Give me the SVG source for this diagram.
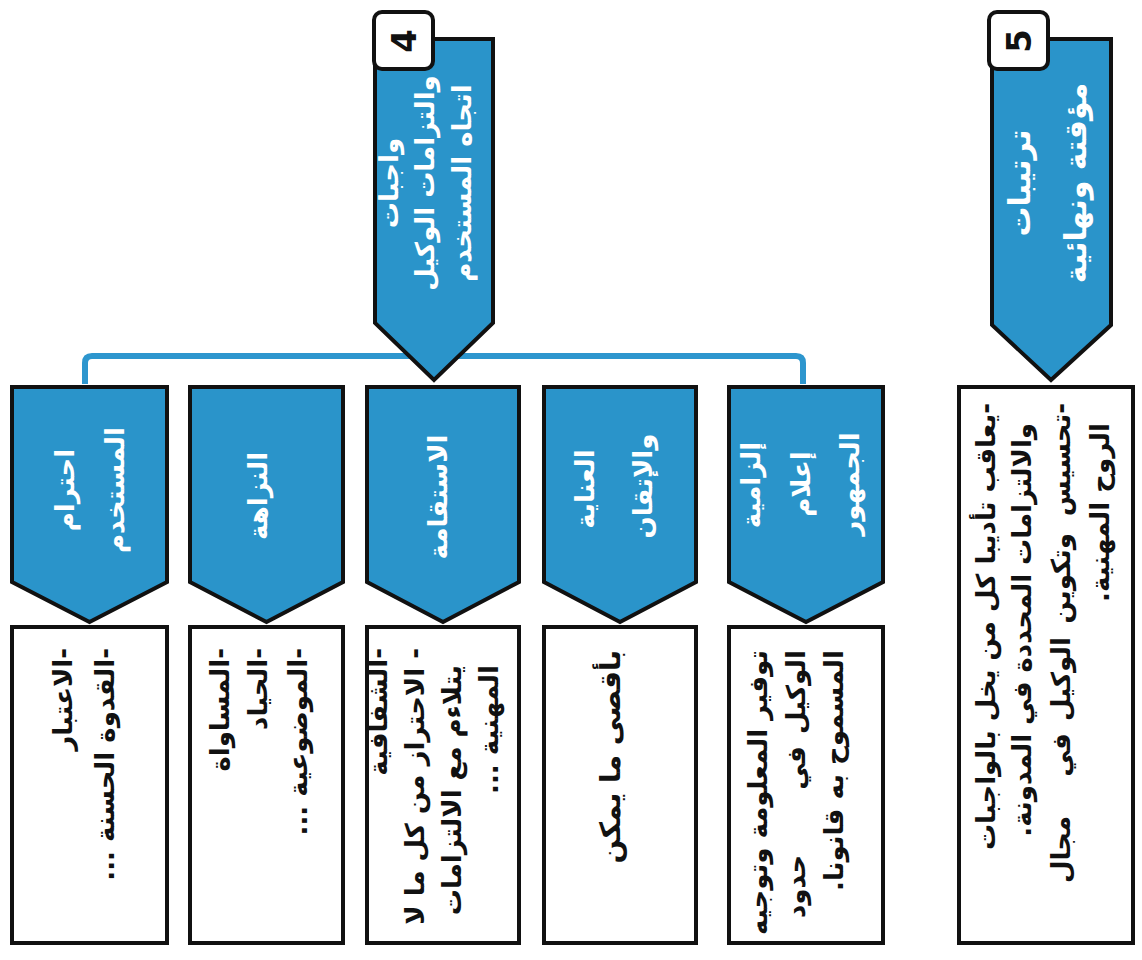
<svg xmlns="http://www.w3.org/2000/svg" width="1142" height="960" viewBox="0 0 1142 960">
<style>
.blue{fill:#2A94CA;stroke:#111;stroke-width:4;stroke-linejoin:miter}
.box{fill:#fff;stroke:#111;stroke-width:4}
.num{fill:#fff;stroke:#111;stroke-width:4}
.conn{fill:none;stroke:#2D96CE;stroke-width:6}
text{font-family:"DejaVu Sans",sans-serif;font-weight:bold}
.wt{fill:#fff;font-size:26px}
.bt{fill:#111;font-size:26px}
.dg{fill:#111;font-size:34px}
</style>
<rect width="1142" height="960" fill="#fff"/>
<g id="connectors">
<path class="conn" d="M85 384 V363 Q85 356 92 356 H796 Q803 356 803 363 V384"/>
</g>
<g id="node4">
<path class="blue" d="M375 39 H493 V323 L434 380 L375 323 Z"/>
<rect class="num" x="374" y="12" width="59" height="57" rx="8"/>
<text class="dg" transform="rotate(-90)" text-anchor="middle"><tspan x="-41" y="416">4</tspan></text>
<text class="wt" transform="rotate(-90)" text-anchor="middle" direction="rtl"><tspan x="-183" y="398">واجبات</tspan><tspan x="-183" y="434">والتزامات  الوكيل</tspan><tspan x="-183" y="471">اتجاه المستخدم</tspan></text>
</g>
<g id="node5">
<path class="blue" d="M992 39 H1111 V325 L1051 380 L992 325 Z"/>
<rect class="num" x="989" y="12" width="59" height="57" rx="8"/>
<text class="dg" transform="rotate(-90)" text-anchor="middle"><tspan x="-41" y="1031">5</tspan></text>
<text class="wt" style="font-size:30px" transform="rotate(-90)" text-anchor="middle" direction="rtl"><tspan x="-183" y="1030">ترتيبات</tspan><tspan x="-183" y="1086">مؤقتة ونهائية</tspan></text>
</g>
<g id="box5">
<rect class="box" x="959" y="387" width="174" height="556"/>
<text class="bt" transform="rotate(-90)" text-anchor="start" direction="rtl"><tspan x="-403" y="995">-يعاقب تأديبا كل من يخل بالواجبات</tspan><tspan x="-423" y="1031">والالتزامات المحددة في المدونة.</tspan></text>
<text class="bt" transform="rotate(-90)" text-anchor="start" direction="rtl" x="-403" y="1070">-تحسيس</text>
<text class="bt" transform="rotate(-90)" text-anchor="start" direction="rtl" x="-533" y="1070">وتكوين</text>
<text class="bt" transform="rotate(-90)" text-anchor="start" direction="rtl" x="-637" y="1070">الوكيل</text>
<text class="bt" transform="rotate(-90)" text-anchor="middle" direction="rtl" x="-755" y="1070">في</text>
<text class="bt" transform="rotate(-90)" text-anchor="end" direction="rtl" x="-883" y="1070">مجال</text>
<text class="bt" transform="rotate(-90)" text-anchor="start" direction="rtl"><tspan x="-423" y="1109">الروح المهنية.</tspan></text>
</g>
<g id="c1">
<path class="blue" d="M12 387 H167 V582 L89.5 622 L12 582 Z"/>
<text class="wt" transform="rotate(-90)" text-anchor="middle" direction="rtl"><tspan x="-490" y="74">احترام</tspan><tspan x="-490" y="124">المستخدم</tspan></text>
</g>
<g id="c2">
<path class="blue" d="M190 387 H343 V582 L266.5 622 L190 582 Z"/>
<text class="wt" transform="rotate(-90)" text-anchor="middle" direction="rtl"><tspan x="-496" y="267">النزاهة</tspan></text>
</g>
<g id="c3">
<path class="blue" d="M367 387 H519 V582 L443 622 L367 582 Z"/>
<text class="wt" transform="rotate(-90)" text-anchor="middle" direction="rtl"><tspan x="-497" y="447">الاستقامة</tspan></text>
</g>
<g id="c4">
<path class="blue" d="M544 387 H696 V582 L620 622 L544 582 Z"/>
<text class="wt" transform="rotate(-90)" text-anchor="middle" direction="rtl"><tspan x="-489" y="594">العناية</tspan><tspan x="-486" y="652">والإتقان</tspan></text>
</g>
<g id="c5">
<path class="blue" d="M729 387 H883 V582 L806 622 L729 582 Z"/>
<text class="wt" transform="rotate(-90)" text-anchor="middle" direction="rtl"><tspan x="-485" y="760">إلزامية</tspan><tspan x="-484" y="810">إعلام</tspan><tspan x="-484" y="859">الجمهور</tspan></text>
</g>
<g id="b1">
<rect class="box" x="12" y="627" width="155" height="316"/>
<text class="bt" transform="rotate(-90)" text-anchor="start" direction="rtl"><tspan x="-648" y="72">-الاعتبار</tspan><tspan x="-648" y="114">-القدوة الحسنة ...</tspan></text>
</g>
<g id="b2">
<rect class="box" x="190" y="627" width="153" height="316"/>
<text class="bt" transform="rotate(-90)" text-anchor="start" direction="rtl"><tspan x="-648" y="229">-المساواة</tspan><tspan x="-648" y="267">-الحياد</tspan><tspan x="-648" y="307">-الموضوعية ...</tspan></text>
</g>
<g id="b3">
<rect class="box" x="367" y="627" width="152" height="316"/>
<text class="bt" transform="rotate(-90)" text-anchor="start" direction="rtl"><tspan x="-648" y="387">-الشفافية</tspan><tspan x="-648" y="424">- الاحتراز من كل ما لا</tspan><tspan x="-665" y="461">يتلاءم مع الالتزامات</tspan><tspan x="-665" y="498">المهنية ...</tspan></text>
</g>
<g id="b4">
<rect class="box" x="544" y="627" width="152" height="316"/>
<text class="bt" style="font-size:28px" transform="rotate(-90)" text-anchor="start" direction="rtl"><tspan x="-650" y="620">بأقصى ما يمكن</tspan></text>
</g>
<g id="b5">
<rect class="box" x="729" y="627" width="154" height="316"/>
<text class="bt" transform="rotate(-90)" text-anchor="start" direction="rtl"><tspan x="-650" y="767">توفير المعلومة وتوجيه</tspan><tspan x="-650" y="843">المسموح به قانونا.</tspan></text>
<text class="bt" transform="rotate(-90)" text-anchor="start" direction="rtl" x="-650" y="805">الوكيل</text>
<text class="bt" transform="rotate(-90)" text-anchor="middle" direction="rtl" x="-768" y="805">في</text>
<text class="bt" transform="rotate(-90)" text-anchor="end" direction="rtl" x="-918" y="805">حدود</text>
</g>
</svg>
